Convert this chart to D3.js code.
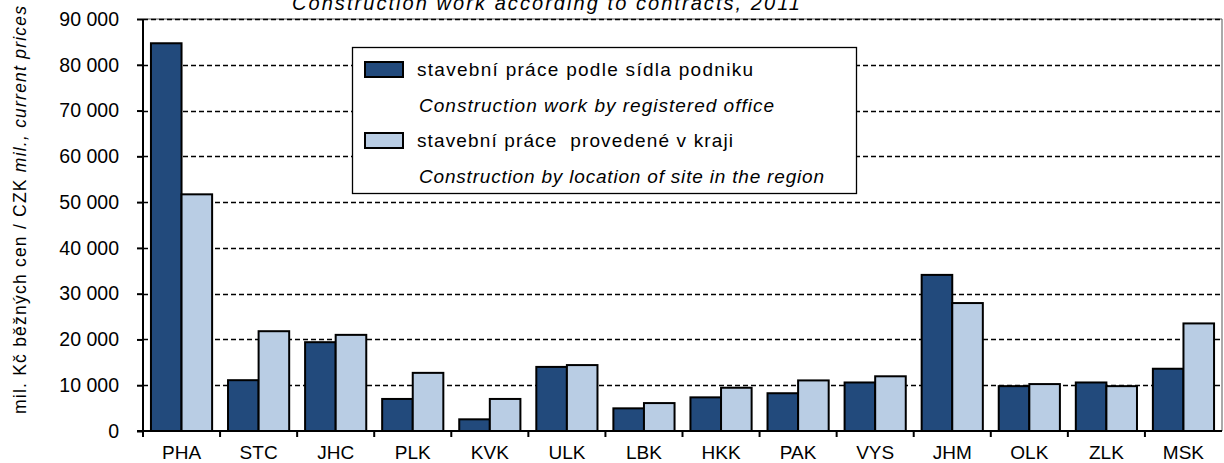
<!DOCTYPE html>
<html>
<head>
<meta charset="utf-8">
<script src="https://cdn.jsdelivr.net/npm/d3@7"></script>
<style>
  body { margin: 0; background: #fff; }
  text { font-family: "Liberation Sans", Arial, sans-serif; fill: #000; }
</style>
</head>
<body>
<div id="chart"></div>
<script>
// regions (kraje)
var regions = ["PHA", "STC", "JHC", "PLK", "KVK", "ULK", "LBK", "HKK", "PAK", "VYS", "JHM", "OLK", "ZLK", "MSK"];
// stavebni prace podle sidla podniku
var byOffice = [84700, 11100, 19400, 7000, 2550, 14000, 4950, 7350, 8250, 10600, 34100, 9800, 10600, 13600];
// stavebni prace provedene v kraji
var bySite = [51700, 21800, 21000, 12700, 7000, 14400, 6100, 9450, 11050, 11950, 27950, 10250, 9800, 23500];
var yTicks = [0, 10000, 20000, 30000, 40000, 50000, 60000, 70000, 80000, 90000];
var seriesKeys = ["office", "site"];
var seriesColors = ["#224a7c", "#b9cde4"];

var width = 1224, height = 463;
var margin = {top: 19, right: 2, bottom: 32, left: 143};
var plotW = width - margin.left - margin.right;
var plotH = height - margin.top - margin.bottom;

var svg = d3.select("#chart").append("svg")
    .attr("width", width)
    .attr("height", height);

var g = svg.append("g")
    .attr("transform", "translate(" + margin.left + "," + margin.top + ")");

var x0 = d3.scaleBand().domain(regions).range([0, plotW]).padding(0);
var x1 = d3.scaleBand().domain(seriesKeys).range([0, x0.bandwidth()])
    .paddingInner(0).paddingOuter(0.26);
var y = d3.scaleLinear().domain([0, 90000]).range([plotH, 0]);

var fmt = function(d) { return d3.format(",")(d).replace(/,/g, " "); };

// plot border (top + right)
g.append("path")
    .attr("d", "M0,0H" + plotW + "V" + plotH)
    .attr("fill", "none")
    .attr("stroke", "#555")
    .attr("stroke-width", 1);

// grid
g.selectAll(".grid").data(yTicks.filter(function(d) { return d > 0; }))
  .enter().append("line")
    .attr("x1", 0).attr("x2", plotW)
    .attr("y1", function(d) { return Math.round(y(d)) + 0.5; })
    .attr("y2", function(d) { return Math.round(y(d)) + 0.5; })
    .attr("stroke", "#000")
    .attr("stroke-width", 1.3)
    .attr("stroke-dasharray", "5,3");

// bars
var rows = regions.map(function(r, i) {
  return {region: r, values: [byOffice[i], bySite[i]]};
});

var groups = g.selectAll(".grp").data(rows).enter().append("g")
    .attr("transform", function(d) { return "translate(" + x0(d.region) + ",0)"; });

groups.selectAll("rect").data(function(d) {
    return d.values.map(function(v, k) { return {key: seriesKeys[k], value: v, k: k}; });
  })
  .enter().append("rect")
    .attr("x", function(d) { return x1(d.key); })
    .attr("width", x1.bandwidth())
    .attr("y", function(d) { return y(d.value); })
    .attr("height", function(d) { return plotH - y(d.value); })
    .attr("fill", function(d) { return seriesColors[d.k]; })
    .attr("stroke", "#000")
    .attr("stroke-width", 2);

// y axis
var yAxis = g.append("g")
    .call(d3.axisLeft(y).tickValues(yTicks).tickFormat(fmt).tickSize(6).tickPadding(18));
yAxis.select(".domain").attr("stroke-width", 2).attr("d", "M0," + (plotH + 1) + "V0");
yAxis.selectAll(".tick line").attr("stroke-width", 2);
yAxis.selectAll("text").style("font-size", "19.5px").attr("fill", "#000");

// x axis
var xAxis = g.append("g")
    .attr("transform", "translate(0," + plotH + ")")
    .call(d3.axisBottom(x0).tickSize(0).tickPadding(15));
xAxis.select(".domain").attr("stroke-width", 2).attr("d", "M-6,0H" + plotW);
xAxis.selectAll("text").style("font-size", "19px").attr("fill", "#000");
xAxis.selectAll(".sep").data(regions).enter().append("line")
    .attr("x1", function(d) { return x0(d); })
    .attr("x2", function(d) { return x0(d); })
    .attr("y1", 0).attr("y2", 6)
    .attr("stroke", "#000").attr("stroke-width", 2);

// title (partly cut off at top)
svg.append("text")
    .attr("x", 292).attr("y", 10)
    .attr("textLength", 508).attr("lengthAdjust", "spacing")
    .style("font-size", "20px").style("font-style", "italic")
    .text("Construction work according to contracts, 2011");

// y label
var yl = svg.append("text")
    .attr("transform", "translate(26,414) rotate(-90)")
    .attr("textLength", 408).attr("lengthAdjust", "spacing")
    .style("font-size", "17.5px");
yl.append("tspan").text("mil. Kč běžných cen / CZK ");
yl.append("tspan").style("font-style", "italic").text("mil., current prices");

// legend
var lg = svg.append("g");
lg.append("rect")
    .attr("x", 352.5).attr("y", 47.5).attr("width", 504).attr("height", 146)
    .attr("fill", "#fff").attr("stroke", "#000").attr("stroke-width", 1.3);

var legendItems = [
  {color: seriesColors[0], cz: "stavební práce podle sídla podniku", en: "Construction work by registered office", czW: 336, enW: 355},
  {color: seriesColors[1], cz: "stavební práce  provedené v kraji", en: "Construction by location of site in the region", czW: 316, enW: 405}
];
legendItems.forEach(function(it, i) {
  var top = 62 + i * 71;
  lg.append("rect")
      .attr("x", 365).attr("y", top).attr("width", 38).attr("height", 15)
      .attr("fill", it.color).attr("stroke", "#000").attr("stroke-width", 2);
  lg.append("text")
      .attr("x", 417).attr("y", top + 14)
      .attr("textLength", it.czW).attr("lengthAdjust", "spacing")
      .style("font-size", "19px").style("white-space", "pre")
      .text(it.cz);
  lg.append("text")
      .attr("x", 419).attr("y", top + 50)
      .attr("textLength", it.enW).attr("lengthAdjust", "spacing")
      .style("font-size", "19px").style("font-style", "italic")
      .text(it.en);
});
</script>
</body>
</html>
